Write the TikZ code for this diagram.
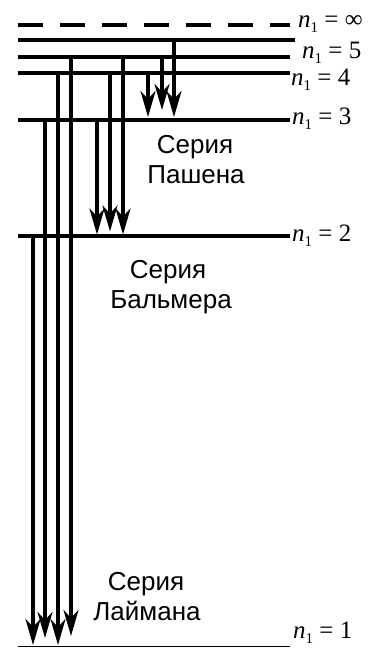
\documentclass[tikz,border=0pt]{standalone}
\usepackage{fontspec}
\setmainfont{Liberation Sans}
\newfontfamily\lvlfont{Liberation Serif}
\usepackage{tikz}
\usetikzlibrary{arrows.meta, positioning}
\tikzstyle{level} = [line width=4pt]
\tikzstyle{trans} = [line width=3.2pt,
-{Stealth[length=26pt, width=15pt, inset=8pt]}]
\tikzstyle{series} = [anchor=base, inner sep=0pt,
font=\fontsize{26}{30}\selectfont]
\tikzstyle{lvllabel} = [anchor=base west, inner sep=0pt,
font=\lvlfont\fontsize{25}{25}\selectfont]
\newcommand{\nlev}[1]{\textit{n}\raisebox{-5pt}{\fontsize{15}{15}\selectfont 1} = #1}

\begin{document}
\begin{tikzpicture}[x=1pt, y=-1pt]
        \useasboundingbox (0,0) rectangle (374,648);

        % Уровни
        \draw[level, line width=4.5pt, dash pattern=on 25pt off 17pt] (18,25) coordinate (linf) -- (290,25);
        \draw[level] (18,40) coordinate (ltop) -- (295,40);
        \foreach \nm/\y in {l5/57, l4/73, l3/120, l2/236}
            \draw[level] (18,\y) coordinate (\nm) -- (290,\y);
        \draw[thin] (18,646) coordinate (l1) -- (290,646);

        % Подписи уровней
        \node[lvllabel] (tinf) at (298,27) {\nlev{∞}};
        \node[lvllabel] (t5) at (302,58) {\nlev{5}};
        \node[lvllabel] (t4) at (291,85) {\nlev{4}};
        \node[lvllabel] (t3) at (292,124) {\nlev{3}};
        \node[lvllabel] (t2) at (292,241) {\nlev{2}};
        \node[lvllabel] (t1) at (293,638) {\nlev{1}};

        % Серия Лаймана
        \draw[trans, shorten >=1pt] (33,0 |- l2) -- (33,0 |- l1);
        \draw[trans, shorten >=8pt] (45,0 |- l3) -- (45,0 |- l1);
        \draw[trans, shorten >=1pt] (58,0 |- l4) -- (58,0 |- l1);
        \draw[trans, shorten >=10pt] (71,0 |- l5) -- (71,0 |- l1);

        % Серия Бальмера
        \draw[trans, shorten >=1.5pt] (97,0 |- l3) -- (97,0 |- l2);
        \draw[trans, shorten >=4.5pt] (110,0 |- l4) -- (110,0 |- l2);
        \draw[trans, shorten >=1.5pt] (123,0 |- l5) -- (123,0 |- l2);

        % Серия Пашена
        \draw[trans, shorten >=3pt] (148,0 |- l4) -- (148,0 |- l3);
        \draw[trans, shorten >=10pt] (162,0 |- l5) -- (162,0 |- l3);
        \draw[trans, shorten >=3pt] (174,0 |- ltop) -- (174,0 |- l3);

        % Названия серий
        \node[series] (pash1) at (195,153) {Серия};
        \node[series] (pash2) at (196,183) {Пашена};
        \node[series] (balm1) at (168,278) {Серия};
        \node[series] (balm2) at (171,308) {Бальмера};
        \node[series] (laim1) at (146,590) {Серия};
        \node[series] (laim2) at (147,620) {Лаймана};
\end{tikzpicture}
\end{document}
